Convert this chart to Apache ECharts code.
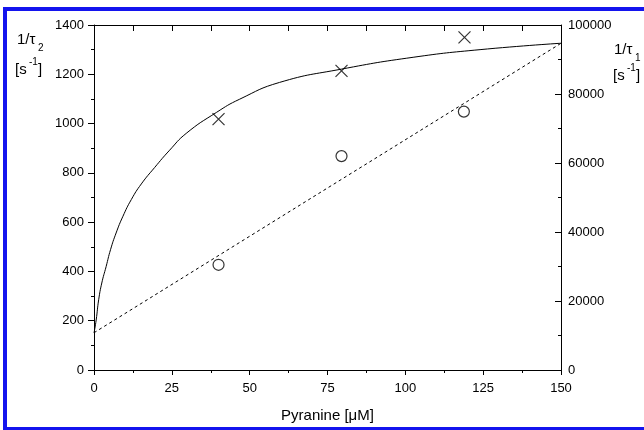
<!DOCTYPE html>
<html>
<head>
<meta charset="utf-8">
<script src="https://cdn.jsdelivr.net/npm/echarts@6/dist/echarts.min.js"></script>
<style>
  html, body { margin: 0; padding: 0; background: #fff; overflow: hidden; }
  #chart { width: 644px; height: 430px; }
</style>
</head>
<body>
<div id="chart"></div>
<script>
// measured points 1/tau2 (left axis)
const tau2X = [40, 79.5, 119]
const tau2Y = [1018, 1214, 1350]
// measured points 1/tau1 (right axis)
const tau1X = [40, 79.5, 118.8]
const tau1Y = [30500, 62000, 74900]
// fit curve for 1/tau2
const fit2X = [0, 0.7, 1.5, 2.5, 3.9, 5.3, 7.1, 9.3, 12, 15.2, 19.5, 24.3, 29.6, 39.3, 46.8, 59.6, 79.5, 102.5, 124, 150]
const fit2Y = [150, 203, 285, 353, 420, 488, 556, 624, 692, 755, 822, 892, 960, 1045, 1099, 1167, 1221, 1269, 1300, 1326]
// linear fit for 1/tau1
const fit1X = [0, 150]
const fit1Y = [10800, 94700]

const zip = (a, b) => a.map((v, i) => [v, b[i]])

const font = 'Liberation Sans, Arial, sans-serif'
const black = '#000'
const blue = '#1414ee'

const chart = echarts.init(document.getElementById('chart'))

const option = {
  animation: false,
  grid: { left: 94, right: 83, top: 25, bottom: 60 },
  xAxis: [
    {
      type: 'value', min: 0, max: 150, interval: 25,
      name: 'Pyranine [μM]', nameLocation: 'middle', nameGap: 38,
      nameTextStyle: { color: black, fontSize: 15, fontFamily: font },
      axisLine: { onZero: false, lineStyle: { color: black, width: 1 } },
      axisTick: { length: 5, lineStyle: { color: black } },
      minorTick: { show: true, splitNumber: 2, length: 3, lineStyle: { color: black } },
      axisLabel: { color: black, fontSize: 13, fontFamily: font, margin: 12 },
      splitLine: { show: false }
    },
    {
      type: 'value', position: 'top', min: 0, max: 150, interval: 12.5,
      axisLine: { onZero: false, lineStyle: { color: black, width: 1 } },
      axisTick: { inside: true, length: 6, lineStyle: { color: black } },
      axisLabel: { show: false },
      splitLine: { show: false }
    }
  ],
  yAxis: [
    {
      type: 'value', min: 0, max: 1400, interval: 200,
      axisLine: { show: true, onZero: false, lineStyle: { color: black, width: 1 } },
      axisTick: { show: true, length: 6, lineStyle: { color: black } },
      minorTick: { show: true, splitNumber: 2, length: 3, lineStyle: { color: black } },
      axisLabel: { color: black, fontSize: 13, fontFamily: font, margin: 10, formatter: v => String(v) },
      splitLine: { show: false }
    },
    {
      type: 'value', min: 0, max: 100000, interval: 20000,
      axisLine: { show: true, onZero: false, lineStyle: { color: black, width: 1 } },
      axisTick: { show: true, inside: true, length: 6, lineStyle: { color: black } },
      minorTick: { show: true, splitNumber: 2, length: 3, lineStyle: { color: black } },
      axisLabel: { color: black, fontSize: 13, fontFamily: font, margin: 7, formatter: v => String(v) },
      splitLine: { show: false }
    }
  ],
  series: [
    {
      type: 'line', data: zip(fit2X, fit2Y), smooth: 0.5,
      showSymbol: false, lineStyle: { color: black, width: 1 }
    },
    {
      type: 'line', yAxisIndex: 1, data: zip(fit1X, fit1Y),
      showSymbol: false, lineStyle: { color: black, width: 1, type: [3, 3] }
    },
    {
      type: 'scatter', data: zip(tau2X, tau2Y),
      symbol: 'path://M0,0L10,10M10,0L0,10', symbolSize: 12,
      itemStyle: { color: 'none', borderColor: black, borderWidth: 1.2 }
    },
    {
      type: 'scatter', yAxisIndex: 1, data: zip(tau1X, tau1Y),
      symbol: 'circle', symbolSize: 11,
      itemStyle: { color: '#fff', borderColor: black, borderWidth: 1.2 }
    }
  ],
  graphic: [
    // blue frame
    { type: 'rect', shape: { x: 3, y: 7, width: 4, height: 423 }, style: { fill: blue } },
    { type: 'rect', shape: { x: 3, y: 7, width: 641, height: 4 }, style: { fill: blue } },
    { type: 'rect', shape: { x: 3, y: 427, width: 641, height: 3 }, style: { fill: blue } },
    // left axis title
    { type: 'text', x: 17, y: 32, style: { text: '1/τ', fontSize: 15, fontFamily: font, fill: black } },
    { type: 'text', x: 38, y: 43, style: { text: '2', fontSize: 10, fontFamily: font, fill: black } },
    { type: 'text', x: 15, y: 62, style: { text: '[s', fontSize: 15, fontFamily: font, fill: black } },
    { type: 'text', x: 29, y: 57, style: { text: '-1', fontSize: 10, fontFamily: font, fill: black } },
    { type: 'text', x: 38, y: 62, style: { text: ']', fontSize: 15, fontFamily: font, fill: black } },
    // right axis title
    { type: 'text', x: 614, y: 42, style: { text: '1/τ', fontSize: 15, fontFamily: font, fill: black } },
    { type: 'text', x: 635, y: 53, style: { text: '1', fontSize: 10, fontFamily: font, fill: black } },
    { type: 'text', x: 613, y: 68, style: { text: '[s', fontSize: 15, fontFamily: font, fill: black } },
    { type: 'text', x: 627, y: 63, style: { text: '-1', fontSize: 10, fontFamily: font, fill: black } },
    { type: 'text', x: 636, y: 68, style: { text: ']', fontSize: 15, fontFamily: font, fill: black } }
  ]
}

chart.setOption(option)
</script>
</body>
</html>
